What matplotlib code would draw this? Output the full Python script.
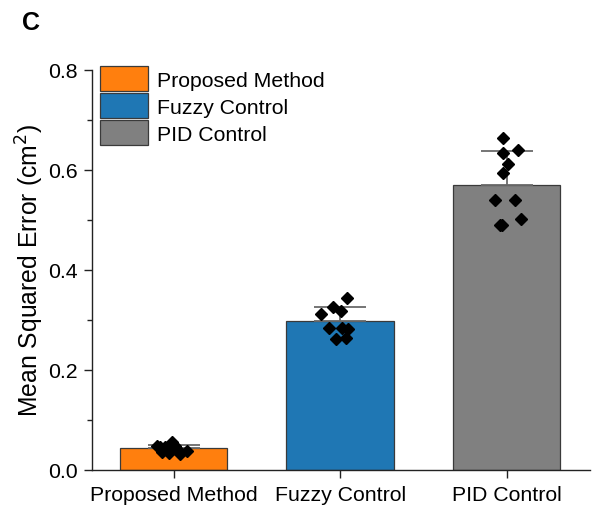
import matplotlib
matplotlib.use("Agg")
import matplotlib.pyplot as plt
import numpy as np
from matplotlib.ticker import MultipleLocator

plt.rcParams['font.family'] = ['Liberation Sans', 'DejaVu Sans']

categories = ["Proposed Method", "Fuzzy Control", "PID Control"]
means = [0.044, 0.298, 0.570]
errors = [0.005, 0.028, 0.067]
colors = ["#ff7f0e", "#1f77b4", "#808080"]

points_proposed = [0.0485, 0.055, 0.0365, 0.033, 0.045, 0.042, 0.032, 0.0385, 0.0485, 0.045]
points_fuzzy = [0.343, 0.326, 0.312, 0.317, 0.283, 0.283, 0.281, 0.261, 0.263]
points_pid = [0.664, 0.640, 0.634, 0.612, 0.593, 0.539, 0.539, 0.502, 0.489, 0.489]
points = [points_proposed, points_fuzzy, points_pid]

# horizontal jitter offsets of the points (in category units)
jitter_proposed = [-0.098, -0.012, -0.072, -0.026, -0.052, 0.018, 0.038, 0.078, 0.008, -0.082]
jitter_fuzzy = [0.040, -0.046, -0.116, 0.006, -0.070, 0.010, 0.046, -0.024, 0.034]
jitter_pid = [-0.022, 0.068, -0.022, 0.008, -0.022, -0.068, 0.048, 0.088, -0.042, -0.026]
jitters = [jitter_proposed, jitter_fuzzy, jitter_pid]

fig = plt.figure(figsize=(5.92, 5.10), dpi=100)
ax = fig.add_axes([92/592, 39/510, 498/592, 400.5/510])

x = np.arange(len(categories))
bars = ax.bar(x, means, width=0.645, color=colors, edgecolor="#3a3a3a",
              linewidth=0.9, zorder=2)
for b, lab in zip(bars, categories):
    b.set_label(lab)

ax.errorbar(x, means, yerr=[np.zeros(len(means)), errors], fmt="none",
            ecolor="#6a6a6a", elinewidth=1.3, capsize=19, capthick=1.3, zorder=3)

for i in range(len(categories)):
    ax.plot(x[i] + np.array(jitters[i]), points[i], linestyle="none", marker="D",
            markersize=6.6, color="black", zorder=4)

ax.set_xlim(-0.49, 2.50)
ax.set_ylim(0, 0.8)
ax.yaxis.set_major_locator(MultipleLocator(0.2))
ax.yaxis.set_minor_locator(MultipleLocator(0.1))
ax.set_xticks(x)
ax.set_xticklabels(categories)
ax.yaxis.set_major_formatter(matplotlib.ticker.FormatStrFormatter('%.1f'))

for s in ["top", "right"]:
    ax.spines[s].set_visible(False)
for s in ["left", "bottom"]:
    ax.spines[s].set_linewidth(1.0)
    ax.spines[s].set_color("#222222")

ax.tick_params(axis="both", which="major", direction="out", length=6, width=1.0,
               labelsize=15.3, color="#222222", pad=4)
ax.tick_params(axis="y", which="minor", direction="out", length=3.5, width=1.0, color="#222222")
ax.tick_params(axis="x", which="major", pad=5)

ax.set_ylabel("Mean Squared Error (cm$^2$)", fontsize=17.8, labelpad=2)

leg = ax.legend(handles=list(bars), loc="upper left", bbox_to_anchor=(8/498, 1.008),
                frameon=False, fontsize=15.3, handlelength=2.25, handleheight=1.4,
                handletextpad=0.41, labelspacing=0.12, borderpad=0, borderaxespad=0)

fig.text(22/592, 1 - 30/510, "C", fontsize=18, fontweight="bold", ha="left", va="baseline")

fig.savefig("out.png", dpi=100)
